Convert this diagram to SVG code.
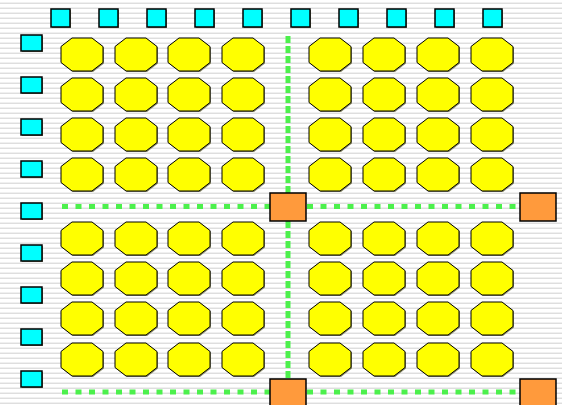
<svg xmlns="http://www.w3.org/2000/svg" xmlns:xlink="http://www.w3.org/1999/xlink" width="562" height="405" viewBox="0 0 562 405">
<defs>
<pattern id="stripes" x="0" y="0" width="10" height="5" patternUnits="userSpaceOnUse">
<rect x="0" y="0" width="10" height="5" fill="#ffffff"/>
<rect x="0" y="2" width="10" height="1" fill="#f0f0f0"/>
<rect x="0" y="3" width="10" height="1" fill="#dedede"/>
</pattern>
<polygon id="octShape" points="11,0 31,0 42,8.5 42,24.5 31,33 11,33 0,24.5 0,8.5"/>
<style>
.sh{fill:#8a8a6a;}
.oct{fill:#ffff00;stroke:#000;stroke-width:1;}
.cy{fill:#00ffff;stroke:#000;stroke-width:1.5;}
.or{fill:#ff9a3c;stroke:#000;stroke-width:1.5;}
.h{stroke:#4cf04c;stroke-width:5;fill:none;stroke-dasharray:6 7.5;}
.v{stroke:#4cf04c;stroke-width:5;fill:none;stroke-dasharray:7 3;stroke-linecap:butt;}
</style>
</defs>
<rect width="562" height="405" fill="url(#stripes)"/>
<g id="connectors">
<line class="h" x1="62" y1="206.5" x2="270" y2="206.5"/>
<line class="h" x1="307" y1="206.5" x2="520" y2="206.5"/>
<line class="h" x1="62" y1="392" x2="270" y2="392"/>
<line class="h" x1="307" y1="392" x2="520" y2="392"/>
<line class="v" x1="288" y1="36" x2="288" y2="193"/>
<line class="v" x1="288" y1="221" x2="288" y2="379"/>
</g>
<g id="top-ports">
<g id="t1"><rect class="sh" x="52" y="10" width="19" height="18"/><rect class="cy" x="51" y="9" width="19" height="18"/></g>
<g id="t2"><rect class="sh" x="100" y="10" width="19" height="18"/><rect class="cy" x="99" y="9" width="19" height="18"/></g>
<g id="t3"><rect class="sh" x="148" y="10" width="19" height="18"/><rect class="cy" x="147" y="9" width="19" height="18"/></g>
<g id="t4"><rect class="sh" x="196" y="10" width="19" height="18"/><rect class="cy" x="195" y="9" width="19" height="18"/></g>
<g id="t5"><rect class="sh" x="244" y="10" width="19" height="18"/><rect class="cy" x="243" y="9" width="19" height="18"/></g>
<g id="t6"><rect class="sh" x="292" y="10" width="19" height="18"/><rect class="cy" x="291" y="9" width="19" height="18"/></g>
<g id="t7"><rect class="sh" x="340" y="10" width="19" height="18"/><rect class="cy" x="339" y="9" width="19" height="18"/></g>
<g id="t8"><rect class="sh" x="388" y="10" width="19" height="18"/><rect class="cy" x="387" y="9" width="19" height="18"/></g>
<g id="t9"><rect class="sh" x="436" y="10" width="19" height="18"/><rect class="cy" x="435" y="9" width="19" height="18"/></g>
<g id="t10"><rect class="sh" x="484" y="10" width="19" height="18"/><rect class="cy" x="483" y="9" width="19" height="18"/></g>
</g>
<g id="left-ports">
<g id="l1"><rect class="sh" x="22" y="36" width="21" height="16"/><rect class="cy" x="21" y="35" width="21" height="16"/></g>
<g id="l2"><rect class="sh" x="22" y="78" width="21" height="16"/><rect class="cy" x="21" y="77" width="21" height="16"/></g>
<g id="l3"><rect class="sh" x="22" y="120" width="21" height="16"/><rect class="cy" x="21" y="119" width="21" height="16"/></g>
<g id="l4"><rect class="sh" x="22" y="162" width="21" height="16"/><rect class="cy" x="21" y="161" width="21" height="16"/></g>
<g id="l5"><rect class="sh" x="22" y="204" width="21" height="16"/><rect class="cy" x="21" y="203" width="21" height="16"/></g>
<g id="l6"><rect class="sh" x="22" y="246" width="21" height="16"/><rect class="cy" x="21" y="245" width="21" height="16"/></g>
<g id="l7"><rect class="sh" x="22" y="288" width="21" height="16"/><rect class="cy" x="21" y="287" width="21" height="16"/></g>
<g id="l8"><rect class="sh" x="22" y="330" width="21" height="16"/><rect class="cy" x="21" y="329" width="21" height="16"/></g>
<g id="l9"><rect class="sh" x="22" y="372" width="21" height="16"/><rect class="cy" x="21" y="371" width="21" height="16"/></g>
</g>
<g id="cells">
<g id="c1-1" transform="translate(61,38)"><use xlink:href="#octShape" class="sh" x="1" y="1"/><use xlink:href="#octShape" class="oct"/></g>
<g id="c1-2" transform="translate(115,38)"><use xlink:href="#octShape" class="sh" x="1" y="1"/><use xlink:href="#octShape" class="oct"/></g>
<g id="c1-3" transform="translate(168,38)"><use xlink:href="#octShape" class="sh" x="1" y="1"/><use xlink:href="#octShape" class="oct"/></g>
<g id="c1-4" transform="translate(222,38)"><use xlink:href="#octShape" class="sh" x="1" y="1"/><use xlink:href="#octShape" class="oct"/></g>
<g id="c1-5" transform="translate(309,38)"><use xlink:href="#octShape" class="sh" x="1" y="1"/><use xlink:href="#octShape" class="oct"/></g>
<g id="c1-6" transform="translate(363,38)"><use xlink:href="#octShape" class="sh" x="1" y="1"/><use xlink:href="#octShape" class="oct"/></g>
<g id="c1-7" transform="translate(417,38)"><use xlink:href="#octShape" class="sh" x="1" y="1"/><use xlink:href="#octShape" class="oct"/></g>
<g id="c1-8" transform="translate(471,38)"><use xlink:href="#octShape" class="sh" x="1" y="1"/><use xlink:href="#octShape" class="oct"/></g>
<g id="c2-1" transform="translate(61,78)"><use xlink:href="#octShape" class="sh" x="1" y="1"/><use xlink:href="#octShape" class="oct"/></g>
<g id="c2-2" transform="translate(115,78)"><use xlink:href="#octShape" class="sh" x="1" y="1"/><use xlink:href="#octShape" class="oct"/></g>
<g id="c2-3" transform="translate(168,78)"><use xlink:href="#octShape" class="sh" x="1" y="1"/><use xlink:href="#octShape" class="oct"/></g>
<g id="c2-4" transform="translate(222,78)"><use xlink:href="#octShape" class="sh" x="1" y="1"/><use xlink:href="#octShape" class="oct"/></g>
<g id="c2-5" transform="translate(309,78)"><use xlink:href="#octShape" class="sh" x="1" y="1"/><use xlink:href="#octShape" class="oct"/></g>
<g id="c2-6" transform="translate(363,78)"><use xlink:href="#octShape" class="sh" x="1" y="1"/><use xlink:href="#octShape" class="oct"/></g>
<g id="c2-7" transform="translate(417,78)"><use xlink:href="#octShape" class="sh" x="1" y="1"/><use xlink:href="#octShape" class="oct"/></g>
<g id="c2-8" transform="translate(471,78)"><use xlink:href="#octShape" class="sh" x="1" y="1"/><use xlink:href="#octShape" class="oct"/></g>
<g id="c3-1" transform="translate(61,118)"><use xlink:href="#octShape" class="sh" x="1" y="1"/><use xlink:href="#octShape" class="oct"/></g>
<g id="c3-2" transform="translate(115,118)"><use xlink:href="#octShape" class="sh" x="1" y="1"/><use xlink:href="#octShape" class="oct"/></g>
<g id="c3-3" transform="translate(168,118)"><use xlink:href="#octShape" class="sh" x="1" y="1"/><use xlink:href="#octShape" class="oct"/></g>
<g id="c3-4" transform="translate(222,118)"><use xlink:href="#octShape" class="sh" x="1" y="1"/><use xlink:href="#octShape" class="oct"/></g>
<g id="c3-5" transform="translate(309,118)"><use xlink:href="#octShape" class="sh" x="1" y="1"/><use xlink:href="#octShape" class="oct"/></g>
<g id="c3-6" transform="translate(363,118)"><use xlink:href="#octShape" class="sh" x="1" y="1"/><use xlink:href="#octShape" class="oct"/></g>
<g id="c3-7" transform="translate(417,118)"><use xlink:href="#octShape" class="sh" x="1" y="1"/><use xlink:href="#octShape" class="oct"/></g>
<g id="c3-8" transform="translate(471,118)"><use xlink:href="#octShape" class="sh" x="1" y="1"/><use xlink:href="#octShape" class="oct"/></g>
<g id="c4-1" transform="translate(61,158)"><use xlink:href="#octShape" class="sh" x="1" y="1"/><use xlink:href="#octShape" class="oct"/></g>
<g id="c4-2" transform="translate(115,158)"><use xlink:href="#octShape" class="sh" x="1" y="1"/><use xlink:href="#octShape" class="oct"/></g>
<g id="c4-3" transform="translate(168,158)"><use xlink:href="#octShape" class="sh" x="1" y="1"/><use xlink:href="#octShape" class="oct"/></g>
<g id="c4-4" transform="translate(222,158)"><use xlink:href="#octShape" class="sh" x="1" y="1"/><use xlink:href="#octShape" class="oct"/></g>
<g id="c4-5" transform="translate(309,158)"><use xlink:href="#octShape" class="sh" x="1" y="1"/><use xlink:href="#octShape" class="oct"/></g>
<g id="c4-6" transform="translate(363,158)"><use xlink:href="#octShape" class="sh" x="1" y="1"/><use xlink:href="#octShape" class="oct"/></g>
<g id="c4-7" transform="translate(417,158)"><use xlink:href="#octShape" class="sh" x="1" y="1"/><use xlink:href="#octShape" class="oct"/></g>
<g id="c4-8" transform="translate(471,158)"><use xlink:href="#octShape" class="sh" x="1" y="1"/><use xlink:href="#octShape" class="oct"/></g>
<g id="c5-1" transform="translate(61,222)"><use xlink:href="#octShape" class="sh" x="1" y="1"/><use xlink:href="#octShape" class="oct"/></g>
<g id="c5-2" transform="translate(115,222)"><use xlink:href="#octShape" class="sh" x="1" y="1"/><use xlink:href="#octShape" class="oct"/></g>
<g id="c5-3" transform="translate(168,222)"><use xlink:href="#octShape" class="sh" x="1" y="1"/><use xlink:href="#octShape" class="oct"/></g>
<g id="c5-4" transform="translate(222,222)"><use xlink:href="#octShape" class="sh" x="1" y="1"/><use xlink:href="#octShape" class="oct"/></g>
<g id="c5-5" transform="translate(309,222)"><use xlink:href="#octShape" class="sh" x="1" y="1"/><use xlink:href="#octShape" class="oct"/></g>
<g id="c5-6" transform="translate(363,222)"><use xlink:href="#octShape" class="sh" x="1" y="1"/><use xlink:href="#octShape" class="oct"/></g>
<g id="c5-7" transform="translate(417,222)"><use xlink:href="#octShape" class="sh" x="1" y="1"/><use xlink:href="#octShape" class="oct"/></g>
<g id="c5-8" transform="translate(471,222)"><use xlink:href="#octShape" class="sh" x="1" y="1"/><use xlink:href="#octShape" class="oct"/></g>
<g id="c6-1" transform="translate(61,262)"><use xlink:href="#octShape" class="sh" x="1" y="1"/><use xlink:href="#octShape" class="oct"/></g>
<g id="c6-2" transform="translate(115,262)"><use xlink:href="#octShape" class="sh" x="1" y="1"/><use xlink:href="#octShape" class="oct"/></g>
<g id="c6-3" transform="translate(168,262)"><use xlink:href="#octShape" class="sh" x="1" y="1"/><use xlink:href="#octShape" class="oct"/></g>
<g id="c6-4" transform="translate(222,262)"><use xlink:href="#octShape" class="sh" x="1" y="1"/><use xlink:href="#octShape" class="oct"/></g>
<g id="c6-5" transform="translate(309,262)"><use xlink:href="#octShape" class="sh" x="1" y="1"/><use xlink:href="#octShape" class="oct"/></g>
<g id="c6-6" transform="translate(363,262)"><use xlink:href="#octShape" class="sh" x="1" y="1"/><use xlink:href="#octShape" class="oct"/></g>
<g id="c6-7" transform="translate(417,262)"><use xlink:href="#octShape" class="sh" x="1" y="1"/><use xlink:href="#octShape" class="oct"/></g>
<g id="c6-8" transform="translate(471,262)"><use xlink:href="#octShape" class="sh" x="1" y="1"/><use xlink:href="#octShape" class="oct"/></g>
<g id="c7-1" transform="translate(61,302)"><use xlink:href="#octShape" class="sh" x="1" y="1"/><use xlink:href="#octShape" class="oct"/></g>
<g id="c7-2" transform="translate(115,302)"><use xlink:href="#octShape" class="sh" x="1" y="1"/><use xlink:href="#octShape" class="oct"/></g>
<g id="c7-3" transform="translate(168,302)"><use xlink:href="#octShape" class="sh" x="1" y="1"/><use xlink:href="#octShape" class="oct"/></g>
<g id="c7-4" transform="translate(222,302)"><use xlink:href="#octShape" class="sh" x="1" y="1"/><use xlink:href="#octShape" class="oct"/></g>
<g id="c7-5" transform="translate(309,302)"><use xlink:href="#octShape" class="sh" x="1" y="1"/><use xlink:href="#octShape" class="oct"/></g>
<g id="c7-6" transform="translate(363,302)"><use xlink:href="#octShape" class="sh" x="1" y="1"/><use xlink:href="#octShape" class="oct"/></g>
<g id="c7-7" transform="translate(417,302)"><use xlink:href="#octShape" class="sh" x="1" y="1"/><use xlink:href="#octShape" class="oct"/></g>
<g id="c7-8" transform="translate(471,302)"><use xlink:href="#octShape" class="sh" x="1" y="1"/><use xlink:href="#octShape" class="oct"/></g>
<g id="c8-1" transform="translate(61,343)"><use xlink:href="#octShape" class="sh" x="1" y="1"/><use xlink:href="#octShape" class="oct"/></g>
<g id="c8-2" transform="translate(115,343)"><use xlink:href="#octShape" class="sh" x="1" y="1"/><use xlink:href="#octShape" class="oct"/></g>
<g id="c8-3" transform="translate(168,343)"><use xlink:href="#octShape" class="sh" x="1" y="1"/><use xlink:href="#octShape" class="oct"/></g>
<g id="c8-4" transform="translate(222,343)"><use xlink:href="#octShape" class="sh" x="1" y="1"/><use xlink:href="#octShape" class="oct"/></g>
<g id="c8-5" transform="translate(309,343)"><use xlink:href="#octShape" class="sh" x="1" y="1"/><use xlink:href="#octShape" class="oct"/></g>
<g id="c8-6" transform="translate(363,343)"><use xlink:href="#octShape" class="sh" x="1" y="1"/><use xlink:href="#octShape" class="oct"/></g>
<g id="c8-7" transform="translate(417,343)"><use xlink:href="#octShape" class="sh" x="1" y="1"/><use xlink:href="#octShape" class="oct"/></g>
<g id="c8-8" transform="translate(471,343)"><use xlink:href="#octShape" class="sh" x="1" y="1"/><use xlink:href="#octShape" class="oct"/></g>
</g>
<g id="switches">
<g id="s1"><rect class="or" x="270" y="193" width="36" height="28"/></g>
<g id="s2"><rect class="or" x="520" y="193" width="36" height="28"/></g>
<g id="s3"><rect class="or" x="270" y="379" width="36" height="28"/></g>
<g id="s4"><rect class="or" x="520" y="379" width="36" height="28"/></g>
</g>
</svg>
